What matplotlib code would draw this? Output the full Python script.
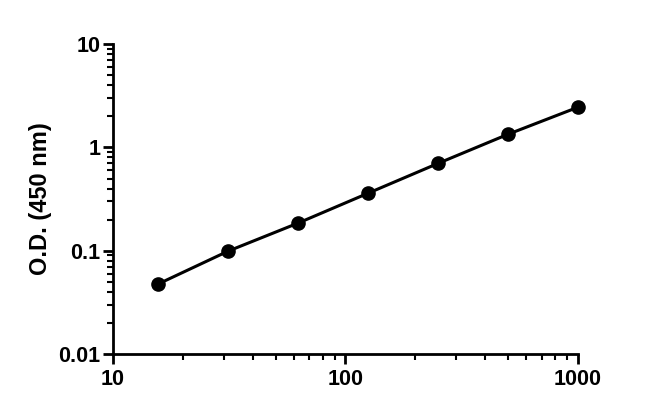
import numpy as np
import matplotlib
matplotlib.use('Agg')
import matplotlib.pyplot as plt
from matplotlib.ticker import LogLocator, FixedLocator, FixedFormatter, NullFormatter

plt.rcParams['font.family'] = ['Liberation Sans', 'DejaVu Sans']
plt.rcParams['font.weight'] = 'bold'

# Standard curve: concentration vs O.D.
conc = [15.6, 31.25, 62.5, 125, 250, 500, 1000]
od = [0.0475, 0.099, 0.185, 0.36, 0.70, 1.34, 2.45]

x_ticks = [10, 100, 1000]
x_labels = ['10', '100', '1000']
y_ticks = [0.01, 0.1, 1, 10]
y_labels = ['0.01', '0.1', '1', '10']

fig = plt.figure(figsize=(6.5, 4.13), dpi=100)
ax = fig.add_axes([0.174, 0.143, 0.715, 0.750])

ax.plot(conc, od, color='black', linewidth=2.2, marker='o', markersize=9.5,
        clip_on=False, zorder=3)

ax.set_xscale('log')
ax.set_yscale('log')
ax.set_xlim(10, 1000)
ax.set_ylim(0.01, 10)

ax.xaxis.set_major_locator(FixedLocator(x_ticks))
ax.xaxis.set_major_formatter(FixedFormatter(x_labels))
ax.yaxis.set_major_locator(FixedLocator(y_ticks))
ax.yaxis.set_major_formatter(FixedFormatter(y_labels))
ax.xaxis.set_minor_locator(LogLocator(base=10, subs=np.arange(2, 10)))
ax.yaxis.set_minor_locator(LogLocator(base=10, subs=np.arange(2, 10)))
ax.xaxis.set_minor_formatter(NullFormatter())
ax.yaxis.set_minor_formatter(NullFormatter())

for s in ['top', 'right']:
    ax.spines[s].set_visible(False)
for s in ['left', 'bottom']:
    ax.spines[s].set_linewidth(2)

ax.tick_params(which='major', direction='out', length=7, width=2,
               labelsize=15.5, pad=2)
ax.tick_params(axis='x', which='major', pad=4)
ax.tick_params(which='minor', direction='out', length=4, width=1.5)
for lab in ax.get_xticklabels() + ax.get_yticklabels():
    lab.set_fontweight('bold')

ax.set_ylabel('O.D. (450 nm)', fontsize=17, fontweight='bold', labelpad=5)

plt.savefig('out.png', dpi=100)
